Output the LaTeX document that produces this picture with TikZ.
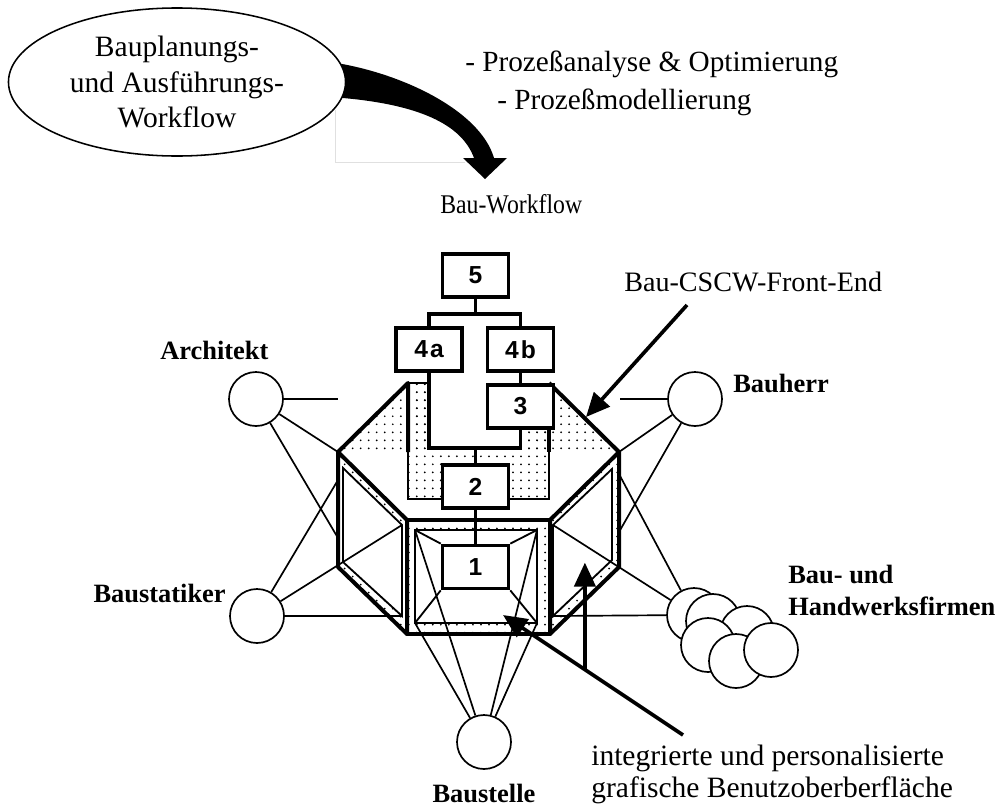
\documentclass[tikz,border=0pt]{standalone}
\usepackage{fontspec}
\setmainfont{Liberation Serif}
\setsansfont{Liberation Sans}
\newfontfamily\semiserif[FakeStretch=0.88]{Liberation Serif}
\usetikzlibrary{shapes.geometric, arrows.meta, patterns.meta, calc}

\begin{document}
\begin{tikzpicture}[x=0.025cm, y=-0.025cm,
    box/.style={draw, line width=2.5pt, fill=white, minimum width=1.65cm, minimum height=1.08cm,
      inner sep=0pt, font=\sffamily\bfseries\fontsize{17.5pt}{20pt}\selectfont},
    role/.style={circle, draw, line width=1.2pt, fill=white, minimum size=1.35cm, inner sep=0pt},
    who/.style={inner sep=0pt, font=\bfseries\fontsize{18.8pt}{22.8pt}\selectfont},
    wire/.style={line width=1.2pt},
    frame/.style={line width=2.85pt, line join=round},
    panel/.style={line width=1.3pt},
    link/.style={line width=2.8pt},
    dotfill/.style={pattern={Dots[distance=5.7pt, radius=0.7pt]}},
    pointer/.style={line width=2.6pt, -{Triangle[length=17pt, width=15pt]}}]

  \useasboundingbox (0,0) rectangle (1004,809);

  % faint scan lines
  \draw[black!12, line width=0.4pt] (335,110) -- (335,162) -- (465,162);

  % curved arrow out of the planning workflow
  \fill (330,62) .. controls (400,72) and (480,110) .. (494,158) -- (507,158) -- (485,179)
    -- (463,158) -- (474,158) .. controls (462,125) and (420,103) .. (330,97) -- cycle;
  \node[ellipse, draw, fill=white, line width=1.1pt, minimum width=8.425cm, minimum height=3.7cm,
    inner sep=0pt, align=center, font=\fontsize{21pt}{25pt}\selectfont] (flow) at (177,82)
    {Bauplanungs-\\und Ausführungs-\\Workflow};

  \node[anchor=base west, inner sep=0pt, font=\fontsize{20.8pt}{24pt}\selectfont]
    (pa1) at (465,71) {- Prozeßanalyse \& Optimierung};
  \node[anchor=base west, inner sep=0pt, font=\fontsize{20.8pt}{24pt}\selectfont]
    (pa2) at (497,109) {- Prozeßmodellierung};
  \node[anchor=base west, inner sep=0pt, font=\semiserif\fontsize{19.2pt}{22pt}\selectfont]
    (wf) at (440,213) {Bau-Workflow};
  \node[anchor=base west, inner sep=0pt, font=\fontsize{20pt}{24pt}\selectfont]
    (fe) at (624,291) {Bau-CSCW-Front-End};
  \node[anchor=west, inner sep=0pt, align=left, font=\fontsize{21pt}{22.8pt}\selectfont]
    (gui) at (591,774) {integrierte und personalisierte\\grafische Benutzoberberfläche};

  % roles round the front-end
  \node[role] (arch) at (256,399) {};
  \node[role] (stat) at (257,616) {};
  \node[role] (herr) at (695,399) {};
  \node[role] (site) at (484,742) {};
  \node[role] (firmA) at (694,615) {};
  \node[role] (firmB) at (713,621) {};
  \node[role] (firmD) at (747,633) {};
  \node[role] (firmC) at (708,645) {};
  \node[role] (firmE) at (736,661) {};
  \node[role] (firmF) at (771,650) {};

  \node[who, anchor=base west] (archlbl) at (160,359) {Architekt};
  \node[who, anchor=base east] (statlbl) at (226,602) {Baustatiker};
  \node[who, anchor=base west] (herrlbl) at (733,392) {Bauherr};
  \node[who, anchor=base] (sitelbl) at (484,802) {Baustelle};
  \node[who, anchor=west, align=left] (firmlbl) at (788,590) {Bau- und\\Handwerksfirmen};

  % corners of the front-end
  \coordinate (cbL) at (408,383);  \coordinate (cbR) at (549,383);
  \coordinate (lwA) at (338,452);  \coordinate (lwB) at (407,520);
  \coordinate (lwC) at (407,634);  \coordinate (lwD) at (338,567);
  \coordinate (liA) at (343,468);  \coordinate (liB) at (402,525);
  \coordinate (liC) at (402,616);  \coordinate (liD) at (343,562);
  \coordinate (rwA) at (619,452);  \coordinate (rwB) at (550,520);
  \coordinate (rwC) at (550,634);  \coordinate (rwD) at (619,567);
  \coordinate (riA) at (612,469);  \coordinate (riB) at (553,525);
  \coordinate (riC) at (553,616);  \coordinate (riD) at (612,560);
  \coordinate (fiA) at (415,530);  \coordinate (fiB) at (537,530);
  \coordinate (fiC) at (537,623);  \coordinate (fiD) at (415,623);

  % dotted walls
  \fill[dotfill] (cbL) -- (cbR) -- (rwA) -- (lwA) -- cycle;
  \fill[dotfill] (cbL) rectangle (549,499);
  \fill[white] (430,373) rectangle (521,448);
  \fill[dotfill, even odd rule] (lwA) -- (lwB) -- (lwC) -- (lwD) -- cycle
    (liA) -- (liB) -- (liC) -- (liD) -- cycle;
  \fill[dotfill, even odd rule] (rwA) -- (rwB) -- (rwC) -- (rwD) -- cycle
    (riA) -- (riB) -- (riC) -- (riD) -- cycle;
  \fill[dotfill, even odd rule] (lwB) rectangle (rwC) (fiA) rectangle (fiC);

  % links from the roles
  \coordinate (archEnd) at (338,399);  \coordinate (archSide) at (338,538);
  \coordinate (statSide) at (338,480);
  \coordinate (herrEnd) at (620,399);  \coordinate (herrSide) at (619,532);
  \coordinate (firmSide) at (619,474);
  \draw[wire] (arch) -- (archEnd);  \draw[wire] (arch) -- (lwA);  \draw[wire] (arch) -- (archSide);
  \draw[wire] (stat) -- (statSide); \draw[wire] (stat) -- (liB);  \draw[wire] (stat) -- (liC);
  \draw[wire] (herr) -- (herrEnd);  \draw[wire] (herr) -- (rwA);  \draw[wire] (herr) -- (herrSide);
  \draw[wire] (firmA) -- (firmSide); \draw[wire] (firmA) -- (riB); \draw[wire] (firmA) -- (riC);
  \draw[wire] (site) -- (fiA);  \draw[wire] (site) -- (fiD);
  \draw[wire] (site) -- (fiB);  \draw[wire] (site) -- (fiC);

  % walls
  \draw[panel] (430,383) -- (cbL) -- (408,499) -- (549,499) -- (549,431);
  \draw[panel] (liA) -- (liB) -- (liC) -- (liD) -- cycle;
  \draw[panel] (riA) -- (riB) -- (riC) -- (riD) -- cycle;
  \draw[panel] (fiA) rectangle (fiC);
  \draw[frame] (lwA) -- (cbL) -- (408,452);
  \draw[frame] (cbR) -- (549,452);
  \draw[frame] (cbR) -- (rwA);
  \draw[frame] (lwA) -- (lwB) -- (lwC) -- (lwD) -- cycle;
  \draw[frame] (rwA) -- (rwB) -- (rwC) -- (rwD) -- cycle;
  \draw[frame] (lwB) rectangle (rwC);

  % workflow steps
  \node[box] (b5) at (475.5,275.5) {5};
  \node[box] (b4a) at (429,349.5) {4\kern1.5pt a};
  \node[box] (b4b) at (520.5,349.5) {4\kern1.5pt b};
  \node[box] (b3) at (520.5,406.5) {3};
  \node[box] (b2) at (475.5,486.5) {2};
  \node[box] (b1) at (475.5,567) {1};

  \draw[panel] (fiA) -- (b1.north west);  \draw[panel] (fiB) -- (b1.north east);
  \draw[panel] (fiD) -- (b1.south west);  \draw[panel] (fiC) -- (b1.south east);

  \coordinate (split) at (475.5,314);
  \coordinate (join) at (475.5,448);
  \draw[link] (b5) -- (split);
  \draw[link] (b4a.north) |- (split) -| (b4b.north);
  \draw[link] (b4b) -- (b3);
  \draw[link] (b4a.south) |- (join) -| (b3.south);
  \draw[link] (join) -- (b2);
  \draw[link] (b2) -- (b1);

  % pointers
  \coordinate (feTail) at (687,305);
  \coordinate (feTip) at (586,417);
  \coordinate (guiTail) at (683,735);
  \coordinate (guiTip) at (503,615);
  \coordinate (fork) at ($(guiTail)!0.545!(guiTip)$);
  \coordinate (upTip) at ($(fork)+(0,-107)$);
  \draw[pointer] (feTail) -- (feTip);
  \draw[pointer] (guiTail) -- (guiTip);
  \draw[pointer] (fork) -- (upTip);

\end{tikzpicture}
\end{document}
